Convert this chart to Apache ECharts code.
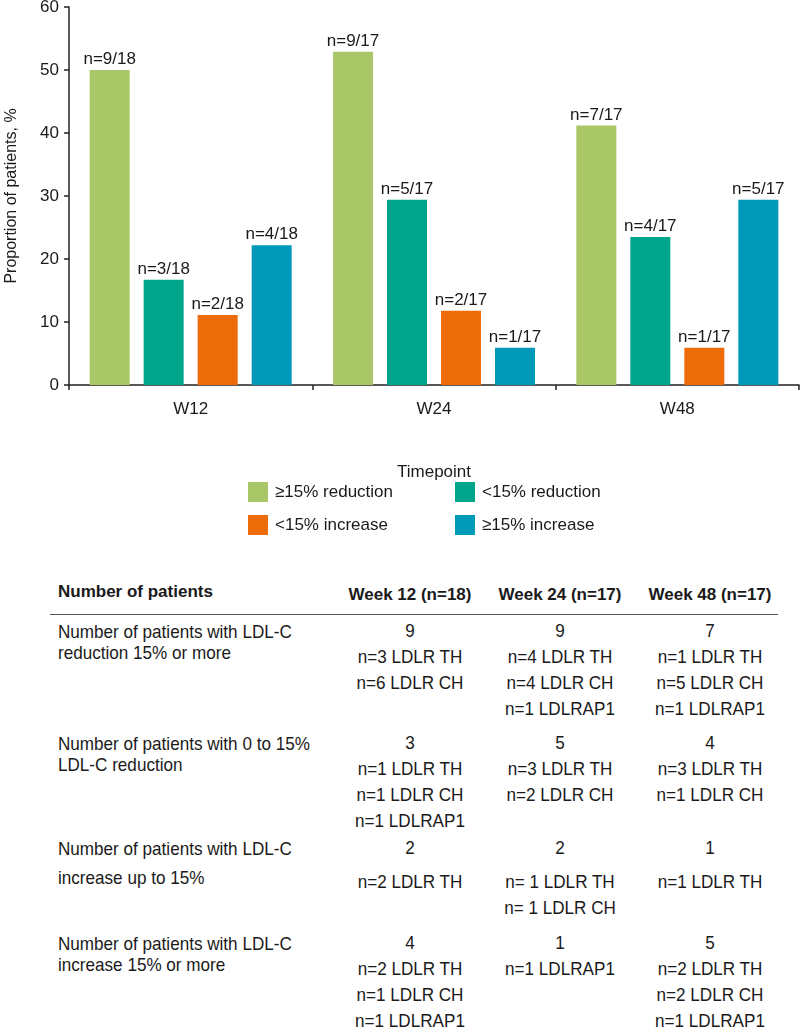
<!DOCTYPE html>
<html>
<head>
<meta charset="utf-8">
<script src="https://cdn.jsdelivr.net/npm/echarts@6/dist/echarts.min.js"></script>
<style>
  html, body { margin: 0; padding: 0; background: #fff; }
  #page { position: relative; width: 800px; height: 1028px; overflow: hidden; }
  #main { position: absolute; left: 0; top: 0; width: 800px; height: 560px; }
  .tbl { position: absolute; font-family: "Liberation Sans", Arial, sans-serif; color: #1a1a1a; font-size: 19px; white-space: nowrap; transform: scaleX(0.9); transform-origin: left center; }
  .hd { font-weight: bold; font-size: 17px; line-height: 20px; transform: none; }
  .lbl { line-height: 21px; }
  .cell { text-align: center; width: 180px; line-height: 26px; transform-origin: center center; }
  #rule { position: absolute; left: 50px; top: 614px; width: 728px; height: 0; border-top: 1px solid #555; }
</style>
</head>
<body>
<div id="page">
  <div id="main"></div>
  <div id="rule"></div>
</div>
<script>
// bar chart data
var categories = ['W12', 'W24', 'W48'];
var seriesNames = ['≥15% reduction', '<15% reduction', '<15% increase', '≥15% increase'];
var seriesColors = ['#a9c766', '#00a68c', '#ec6c0a', '#0099b9'];
var reduce15 = [50.0, 52.9, 41.2];
var reduceLess = [16.7, 29.4, 23.5];
var increaseLess = [11.1, 11.8, 5.9];
var increase15 = [22.2, 5.9, 29.4];
var reduce15Labels = ['n=9/18', 'n=9/17', 'n=7/17'];
var reduceLessLabels = ['n=3/18', 'n=5/17', 'n=4/17'];
var increaseLessLabels = ['n=2/18', 'n=2/17', 'n=1/17'];
var increase15Labels = ['n=4/18', 'n=1/17', 'n=5/17'];

// table data
var tableTitle = 'Number of patients';
var weekHeaders = ['Week 12 (n=18)', 'Week 24 (n=17)', 'Week 48 (n=17)'];
var rowLabels = [
    ['Number of patients with LDL-C', 'reduction 15% or more'],
    ['Number of patients with 0 to 15%', 'LDL-C reduction'],
    ['Number of patients with LDL-C', 'increase up to 15%'],
    ['Number of patients with LDL-C', 'increase 15% or more']
];
var rowCounts = [[9, 9, 7], [3, 5, 4], [2, 2, 1], [4, 1, 5]];
var rowDetails = [
    [['n=3 LDLR TH', 'n=6 LDLR CH'], ['n=4 LDLR TH', 'n=4 LDLR CH', 'n=1 LDLRAP1'], ['n=1 LDLR TH', 'n=5 LDLR CH', 'n=1 LDLRAP1']],
    [['n=1 LDLR TH', 'n=1 LDLR CH', 'n=1 LDLRAP1'], ['n=3 LDLR TH', 'n=2 LDLR CH'], ['n=3 LDLR TH', 'n=1 LDLR CH']],
    [['n=2 LDLR TH'], ['n= 1 LDLR TH', 'n= 1 LDLR CH'], ['n=1 LDLR TH']],
    [['n=2 LDLR TH', 'n=1 LDLR CH', 'n=1 LDLRAP1'], ['n=1 LDLRAP1'], ['n=2 LDLR TH', 'n=2 LDLR CH', 'n=1 LDLRAP1']]
];

var font = '"Liberation Sans", Arial, sans-serif';
var values = [reduce15, reduceLess, increaseLess, increase15];
var labels = [reduce15Labels, reduceLessLabels, increaseLessLabels, increase15Labels];

var series = seriesNames.map(function(name, i) {
    return {
        name: name,
        type: 'bar',
        barWidth: 40,
        barGap: '35%',
        itemStyle: { color: seriesColors[i] },
        label: {
            show: true,
            position: 'top',
            distance: 2,
            color: '#1a1a1a',
            fontSize: 17,
            fontFamily: font,
            formatter: function(p) { return labels[i][p.dataIndex]; }
        },
        data: values[i]
    };
});

// one legend per item so each sits where the reference puts it
var legendPos = [[248, 482], [455, 482], [248, 515], [455, 515]];
var legends = seriesNames.map(function(name, i) {
    return {
        data: [name],
        left: legendPos[i][0],
        top: legendPos[i][1],
        padding: 0,
        icon: 'rect',
        itemWidth: 20,
        itemHeight: 20,
        textStyle: { fontSize: 17, color: '#1a1a1a', fontFamily: font, padding: [0, 0, 0, 2] }
    };
});

var chart = echarts.init(document.getElementById('main'), null, { renderer: 'canvas' });
chart.setOption({
    animation: false,
    grid: { left: 69, right: 1, top: 7, bottom: 175, containLabel: false, outerBoundsMode: 'none' },
    legend: legends,
    xAxis: {
        type: 'category',
        data: categories,
        name: 'Timepoint',
        nameLocation: 'middle',
        nameGap: 79,
        nameTextStyle: { fontSize: 17, color: '#1a1a1a', fontFamily: font },
        axisLine: { lineStyle: { color: '#222', width: 1.5 } },
        axisTick: { show: true, length: 5, lineStyle: { color: '#222', width: 1.5 } },
        axisLabel: { fontSize: 17, color: '#1a1a1a', fontFamily: font, margin: 16 }
    },
    yAxis: {
        type: 'value',
        min: 0,
        max: 60,
        interval: 10,
        name: 'Proportion of patients, %',
        nameLocation: 'middle',
        nameRotate: 90,
        nameGap: 49,
        nameTextStyle: { fontSize: 16, color: '#1a1a1a', fontFamily: font },
        axisLine: { show: true, lineStyle: { color: '#222', width: 1.5 } },
        axisTick: { show: true, length: 5, lineStyle: { color: '#222', width: 1.5 } },
        axisLabel: { fontSize: 17, color: '#1a1a1a', fontFamily: font, margin: 10 },
        splitLine: { show: false }
    },
    series: series
});

// table below the chart
var page = document.getElementById('page');
var colCenters = [410, 560, 710];
var rowTops = [631, 743, 848, 943];

function addDiv(cls, left, top, html) {
    var d = document.createElement('div');
    d.className = 'tbl ' + cls;
    d.style.left = left + 'px';
    d.style.top = top + 'px';
    d.innerHTML = html;
    page.appendChild(d);
    return d;
}

addDiv('hd', 58, 582, tableTitle);
weekHeaders.forEach(function(h, j) {
    addDiv('hd cell', colCenters[j] - 90, 582, h);
});

rowLabels.forEach(function(lines, i) {
    var lbl = addDiv('lbl', 58, rowTops[i] - 10.5, lines.join('<br>'));
    if (i === 2) {
        lbl.style.lineHeight = '29px';
        lbl.style.top = (rowTops[i] - 14.5) + 'px';
    }
    for (var j = 0; j < 3; j++) {
        var html = '<div>' + rowCounts[i][j] + '</div>';
        var det = rowDetails[i][j].join('<br>');
        html += '<div' + (i === 2 ? ' style="margin-top:8px"' : '') + '>' + det + '</div>';
        addDiv('cell', colCenters[j] - 90, rowTops[i] - 13, html);
    }
});
</script>
</body>
</html>
